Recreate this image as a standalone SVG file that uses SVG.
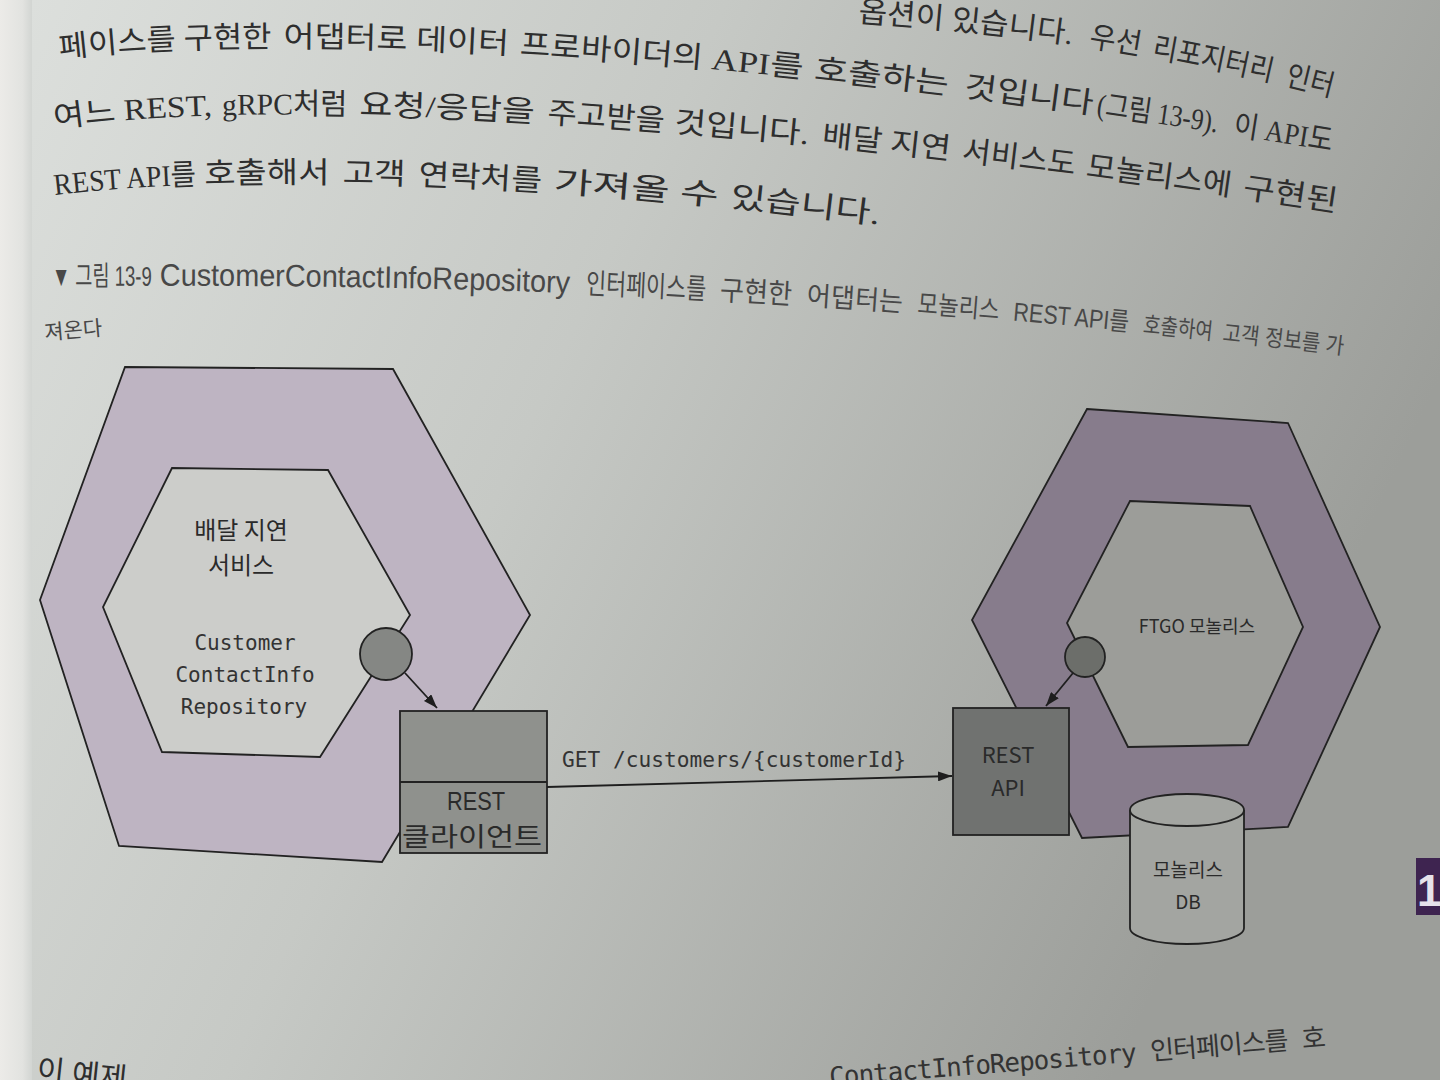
<svg xmlns="http://www.w3.org/2000/svg" width="1440" height="1080" viewBox="0 0 1440 1080">
<defs>
<linearGradient id="page" x1="0" y1="0" x2="1" y2="0.35">
<stop offset="0" stop-color="#dde0dd"/>
<stop offset="0.45" stop-color="#c6c9c5"/>
<stop offset="1" stop-color="#9c9e9a"/>
</linearGradient>
<linearGradient id="edge" x1="0" y1="0" x2="1" y2="0">
<stop offset="0" stop-color="#ecebe8"/>
<stop offset="0.7" stop-color="#e2e3e0"/>
<stop offset="1" stop-color="#d2d5d2"/>
</linearGradient>
<marker id="arr" viewBox="0 0 14 10" refX="14" refY="5" markerWidth="14" markerHeight="10" markerUnits="userSpaceOnUse" orient="auto">
<path d="M0,0 L14,5 L0,10 Z" fill="#1e1e1e"/>
</marker>
<path id="pA" d="M858,22 C1000,32 1150,50 1325,95 L1420,120"/>
<path id="pB" d="M60,58 C300,30 760,55 1325,150 L1420,170"/>
<path id="pC" d="M55,128 C300,92 800,130 1325,210 L1420,226"/>
<path id="pD" d="M55,195 C250,172 550,182 875,224 L950,235"/>
<path id="pCap" d="M52,286 C400,284 800,290 1340,354 L1420,364"/>
<path id="pBot" d="M830,1086 L1330,1046 L1400,1040"/>
</defs>
<style>
.ln{stroke:#222;stroke-width:1.8;stroke-linejoin:miter}
.ko{font-family:"Noto Sans CJK KR","Noto Sans",sans-serif;fill:#2a2a2a}
.lat{font-family:"Liberation Sans","Noto Sans CJK KR",sans-serif;fill:#2a2a2a}
.mono{font-family:"DejaVu Sans Mono","Noto Sans CJK KR",monospace;fill:#333}
.body{font-family:"Liberation Serif","Noto Sans CJK KR",serif;fill:#2e2e2e;font-size:30px}
.cap{font-family:"Liberation Sans","Noto Sans CJK KR",sans-serif;fill:#484848}
.conn{stroke:#1e1e1e;stroke-width:1.8;fill:none}
</style>

<rect x="0" y="0" width="1440" height="1080" fill="url(#page)"/>
<rect x="0" y="0" width="32" height="1080" fill="url(#edge)"/>

<g id="page-text">
<text class="body"><textPath href="#pA" startOffset="0" textLength="215" lengthAdjust="spacingAndGlyphs">옵션이 있습니다.</textPath></text>
<text class="body"><textPath href="#pA" startOffset="232" textLength="52" lengthAdjust="spacingAndGlyphs">우선</textPath></text>
<text class="body"><textPath href="#pA" startOffset="296" textLength="122" lengthAdjust="spacingAndGlyphs">리포지터리</textPath></text>
<text class="body"><textPath href="#pA" startOffset="432" textLength="48" lengthAdjust="spacingAndGlyphs">인터</textPath></text>

<text class="body"><textPath href="#pB" startOffset="0" textLength="212" lengthAdjust="spacingAndGlyphs">페이스를 구현한</textPath></text>
<text class="body"><textPath href="#pB" startOffset="224" textLength="225" lengthAdjust="spacingAndGlyphs">어댑터로 데이터</textPath></text>
<text class="body"><textPath href="#pB" startOffset="460" textLength="183" lengthAdjust="spacingAndGlyphs">프로바이더의</textPath></text>
<text class="body"><textPath href="#pB" startOffset="652" textLength="92" lengthAdjust="spacingAndGlyphs">API를</textPath></text>
<text class="body"><textPath href="#pB" startOffset="755" textLength="135" lengthAdjust="spacingAndGlyphs">호출하는</textPath></text>
<text class="body"><textPath href="#pB" startOffset="906" textLength="130" lengthAdjust="spacingAndGlyphs">것입니다</textPath></text>
<text class="body"><textPath href="#pB" startOffset="1040" textLength="122" lengthAdjust="spacingAndGlyphs">(그림 13-9).</textPath></text>
<text class="body"><textPath href="#pB" startOffset="1178" textLength="100" lengthAdjust="spacingAndGlyphs">이 API도</textPath></text>

<text class="body"><textPath href="#pC" startOffset="0" textLength="158" lengthAdjust="spacingAndGlyphs">여느 REST,</textPath></text>
<text class="body"><textPath href="#pC" startOffset="168" textLength="125" lengthAdjust="spacingAndGlyphs">gRPC처럼</textPath></text>
<text class="body"><textPath href="#pC" startOffset="305" textLength="175" lengthAdjust="spacingAndGlyphs">요청/응답을</textPath></text>
<text class="body"><textPath href="#pC" startOffset="493" textLength="117" lengthAdjust="spacingAndGlyphs">주고받을</textPath></text>
<text class="body"><textPath href="#pC" startOffset="620" textLength="135" lengthAdjust="spacingAndGlyphs">것입니다.</textPath></text>
<text class="body"><textPath href="#pC" startOffset="768" textLength="129" lengthAdjust="spacingAndGlyphs">배달 지연</textPath></text>
<text class="body"><textPath href="#pC" startOffset="909" textLength="114" lengthAdjust="spacingAndGlyphs">서비스도</textPath></text>
<text class="body"><textPath href="#pC" startOffset="1034" textLength="146" lengthAdjust="spacingAndGlyphs">모놀리스에</textPath></text>
<text class="body"><textPath href="#pC" startOffset="1192" textLength="95" lengthAdjust="spacingAndGlyphs">구현된</textPath></text>

<text class="body"><textPath href="#pD" startOffset="0" textLength="142" lengthAdjust="spacingAndGlyphs">REST API를</textPath></text>
<text class="body"><textPath href="#pD" startOffset="150" textLength="125" lengthAdjust="spacingAndGlyphs">호출해서</textPath></text>
<text class="body"><textPath href="#pD" startOffset="288" textLength="63" lengthAdjust="spacingAndGlyphs">고객</textPath></text>
<text class="body"><textPath href="#pD" startOffset="364" textLength="123" lengthAdjust="spacingAndGlyphs">연락처를</textPath></text>
<text class="body"><textPath href="#pD" startOffset="499" textLength="165" lengthAdjust="spacingAndGlyphs">가져올 수</textPath></text>
<text class="body"><textPath href="#pD" startOffset="676" textLength="150" lengthAdjust="spacingAndGlyphs">있습니다.</textPath></text>

<text class="cap" font-size="28"><textPath href="#pCap" startOffset="0" textLength="100" lengthAdjust="spacingAndGlyphs">▼ 그림 13-9</textPath></text>
<text class="cap" font-size="31"><textPath href="#pCap" startOffset="108" textLength="410" lengthAdjust="spacingAndGlyphs">CustomerContactInfoRepository</textPath></text>
<text class="cap" font-size="29"><textPath href="#pCap" startOffset="534" textLength="120" lengthAdjust="spacingAndGlyphs">인터페이스를</textPath></text>
<text class="cap" font-size="28"><textPath href="#pCap" startOffset="668" textLength="72" lengthAdjust="spacingAndGlyphs">구현한</textPath></text>
<text class="cap" font-size="27"><textPath href="#pCap" startOffset="755" textLength="96" lengthAdjust="spacingAndGlyphs">어댑터는</textPath></text>
<text class="cap" font-size="26"><textPath href="#pCap" startOffset="866" textLength="82" lengthAdjust="spacingAndGlyphs">모놀리스</textPath></text>
<text class="cap" font-size="26"><textPath href="#pCap" startOffset="962" textLength="116" lengthAdjust="spacingAndGlyphs">REST API를</textPath></text>
<text class="cap" font-size="23"><textPath href="#pCap" startOffset="1092" textLength="70" lengthAdjust="spacingAndGlyphs">호출하여</textPath></text>
<text class="cap" font-size="23"><textPath href="#pCap" startOffset="1172" textLength="122" lengthAdjust="spacingAndGlyphs">고객 정보를 가</textPath></text>
<text class="cap" font-size="21" x="45" y="340" transform="rotate(-5 45 340)">져온다</text>

<text class="body" x="36" y="1080" transform="rotate(6 36 1080)">이 예제</text>
<text class="mono" font-size="26" fill="#2e2e2e"><textPath href="#pBot" textLength="498" lengthAdjust="spacing">ContactInfoRepository 인터페이스를 호</textPath></text>
<rect x="1416" y="858" width="24" height="57" fill="#3e2450"/>
<text x="1417" y="906" font-family="Liberation Sans, sans-serif" font-weight="bold" font-size="44" fill="#e6e2ea">1</text>
</g>

<g id="delivery-delay-service">
<polygon class="ln" points="125,367 393,369 530,615 382,862 119,846 40,600" fill="#beb4c2"/>
<polygon class="ln" points="172,468 328,470 410,615 320,757 162,752 103,607" fill="#cccdca"/>
<text class="ko" font-size="24" text-anchor="middle" x="241" y="539">배달 지연</text>
<text class="ko" font-size="24" text-anchor="middle" x="241" y="574">서비스</text>
<text class="mono" font-size="21" text-anchor="middle" x="245" y="650">Customer</text>
<text class="mono" font-size="21" text-anchor="middle" x="245" y="682">ContactInfo</text>
<text class="mono" font-size="21" text-anchor="middle" x="244" y="714">Repository</text>
</g>
<g id="repository-port-left">
<circle class="ln" cx="386" cy="654" r="26" fill="#858784"/>
</g>
<g id="rest-client">
<rect class="ln" x="400" y="711" width="147" height="142" fill="#8f918d"/>
<line class="ln" x1="400" y1="782" x2="547" y2="782"/>
<text class="lat" font-size="25" text-anchor="middle" x="476" y="810" textLength="58" lengthAdjust="spacingAndGlyphs">REST</text>
<text class="ko" font-size="26" text-anchor="middle" x="472" y="846" textLength="140" lengthAdjust="spacingAndGlyphs">클라이언트</text>
</g>

<g id="ftgo-monolith">
<polygon class="ln" points="1087,409 1288,423 1380,627 1288,827 1082,838 972,620" fill="#877c8c"/>
<polygon class="ln" points="1130,501 1250,506 1303,627 1248,745 1128,747 1067,623" fill="#9c9d99"/>
<text class="ko" font-size="18" text-anchor="middle" x="1197" y="633">FTGO 모놀리스</text>
</g>
<g id="repository-port-right">
<circle class="ln" cx="1085" cy="657" r="20" fill="#6c6e6a"/>
</g>
<g id="rest-api">
<rect class="ln" x="953" y="708" width="116" height="127" fill="#707270"/>
<text class="ko" font-size="22" text-anchor="middle" x="1008" y="763">REST</text>
<text class="ko" font-size="22" text-anchor="middle" x="1008" y="796">API</text>
</g>
<g id="monolith-db">
<path class="ln" d="M1130,810 L1130,928 A57,16 0 0 0 1244,928 L1244,810" fill="#a3a5a1"/>
<ellipse class="ln" cx="1187" cy="810" rx="57" ry="16" fill="#a3a5a1"/>
<text class="ko" font-size="19" text-anchor="middle" x="1188" y="877">모놀리스</text>
<text class="ko" font-size="19" text-anchor="middle" x="1188" y="909">DB</text>
</g>

<g id="connectors">
<line class="conn" x1="405" y1="673" x2="437" y2="708" marker-end="url(#arr)"/>
<line class="conn" x1="1073" y1="673" x2="1046" y2="706" marker-end="url(#arr)"/>
<line class="conn" x1="547" y1="787" x2="952" y2="776" marker-end="url(#arr)"/>
<text class="mono" font-size="21" x="562" y="767" textLength="344" lengthAdjust="spacingAndGlyphs">GET /customers/{customerId}</text>
</g>
</svg>
